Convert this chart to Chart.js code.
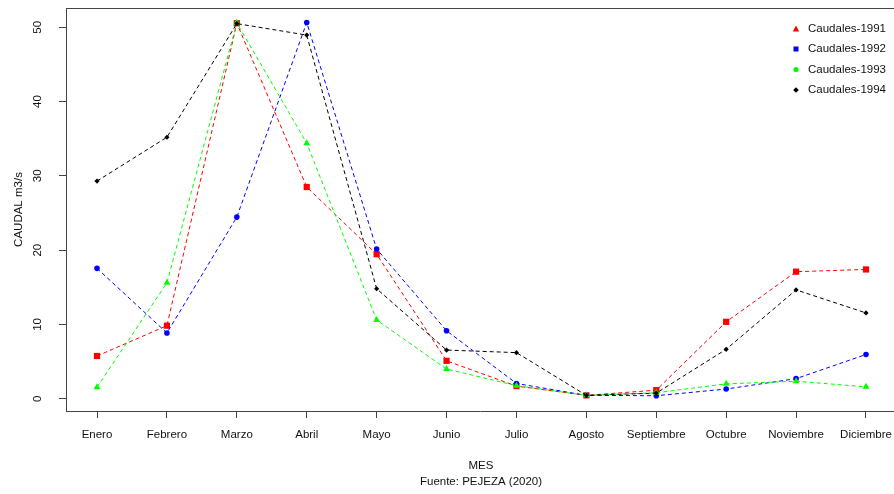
<!DOCTYPE html>
<html><head><meta charset="utf-8">
<script src="https://cdn.jsdelivr.net/npm/chart.js@4/dist/chart.umd.min.js"></script>
<style>html,body{margin:0;padding:0;background:#fff}canvas{display:block}</style>
</head><body>
<canvas id="c" width="894" height="494"></canvas>
<script>
const months = ['Enero','Febrero','Marzo','Abril','Mayo','Junio','Julio','Agosto','Septiembre','Octubre','Noviembre','Diciembre'];
const yTicks = [0, 10, 20, 30, 40, 50];
const q1991 = [5.75, 9.83, 50.55, 28.5, 19.45, 5.1, 1.7, 0.45, 1.15, 10.35, 17.1, 17.4];
const q1992 = [17.55, 8.85, 24.45, 50.65, 20.15, 9.15, 2.05, 0.45, 0.4, 1.3, 2.7, 5.95];
const q1993 = [1.55, 15.6, 50.6, 34.4, 10.6, 4.0, 1.75, 0.45, 0.8, 2.0, 2.35, 1.6];
const q1994 = [29.3, 35.2, 50.5, 48.95, 14.8, 6.55, 6.2, 0.45, 0.75, 6.65, 14.65, 11.55];
const seriesNames = ['Caudales-1991', 'Caudales-1992', 'Caudales-1993', 'Caudales-1994'];
const seriesColors = ['#ff0000', '#0000ff', '#00ff00', '#000000'];
const FONT = '"Liberation Sans", Arial, sans-serif';
const toXY = arr => arr.map((v, i) => ({ x: i + 1, y: v }));

function ds(idx, data, style, radius, order) {
  return {
    label: seriesNames[idx], data: toXY(data),
    borderColor: seriesColors[idx], backgroundColor: seriesColors[idx],
    borderWidth: 1, borderDash: [4, 3], pointStyle: style, pointRadius: radius,
    pointBorderWidth: 0, pointBackgroundColor: seriesColors[idx], tension: 0, order: order, fill: false,
    clip: 8
  };
}

const extras = {
  id: 'extras',
  afterDraw(chart) {
    const { ctx, chartArea: a, scales: { y } } = chart;
    ctx.save();
    ctx.strokeStyle = '#444'; ctx.lineWidth = 1;
    ctx.beginPath(); ctx.moveTo(a.left, a.top + 0.5); ctx.lineTo(a.right, a.top + 0.5); ctx.stroke();
    ctx.fillStyle = '#111'; ctx.font = '11.5px ' + FONT; ctx.textAlign = 'center'; ctx.textBaseline = 'middle';
    yTicks.forEach(v => {
      const py = y.getPixelForValue(v);
      ctx.save(); ctx.translate(38, py); ctx.rotate(-Math.PI / 2); ctx.fillText(String(v), 0, 0); ctx.restore();
    });
    ctx.save(); ctx.translate(19, (a.top + a.bottom) / 2); ctx.rotate(-Math.PI / 2); ctx.fillText('CAUDAL m3/s', 0, 0); ctx.restore();
    const cx = 481;
    ctx.fillText('MES', cx, 466);
    ctx.fillText('Fuente: PEJEZA (2020)', cx, 482);
    // legend
    const lx = 796, ly = [29, 49, 69.5, 90];
    ctx.textAlign = 'left';
    seriesNames.forEach((n, i) => {
      const yy = ly[i];
      ctx.fillStyle = seriesColors[i];
      ctx.beginPath();
      if (i === 0) { ctx.moveTo(lx, yy - 3.5); ctx.lineTo(lx + 3.2, yy + 2.5); ctx.lineTo(lx - 3.2, yy + 2.5); ctx.closePath(); }
      else if (i === 1) { ctx.rect(lx - 2.5, yy - 2.5, 5, 5); }
      else if (i === 2) { ctx.arc(lx, yy, 2.6, 0, Math.PI * 2); }
      else { ctx.moveTo(lx, yy - 2.8); ctx.lineTo(lx + 2.8, yy); ctx.lineTo(lx, yy + 2.8); ctx.lineTo(lx - 2.8, yy); ctx.closePath(); }
      ctx.fill();
      ctx.fillStyle = '#111';
      ctx.fillText(n, 808, yy);
    });
    ctx.restore();
  }
};

new Chart(document.getElementById('c'), {
  type: 'line',
  data: {
    datasets: [
      ds(0, q1991, 'rect', 4.4, 3),
      ds(1, q1992, 'circle', 2.8, 2),
      ds(2, q1993, 'triangle', 4, 1),
      ds(3, q1994, 'rectRot', 2.6, 0)
    ]
  },
  options: {
    responsive: false, animation: false,
    layout: { autoPadding: false, padding: { top: 8, right: 0, left: 0, bottom: 0 } },
    plugins: { legend: { display: false }, tooltip: { enabled: false } },
    scales: {
      x: {
        type: 'linear', min: 0.5565, max: 12.4006,
        afterBuildTicks: s => { s.ticks = months.map((m, i) => ({ value: i + 1 })); },
        afterFit: s => { s.height = 83; s.paddingRight = 0; s.paddingLeft = 0; },
        grid: { display: true, drawOnChartArea: false, drawTicks: true, tickLength: 7, color: '#444' },
        border: { display: true, color: '#444' },
        ticks: { autoSkip: false, maxRotation: 0, minRotation: 0, padding: 10, color: '#111',
          font: { family: FONT, size: 11.5 }, callback: v => months[v - 1] }
      },
      y: {
        type: 'linear', min: -1.656, max: 52.6,
        afterBuildTicks: s => { s.ticks = yTicks.map(v => ({ value: v })); },
        afterFit: s => { s.width = 66; s.paddingTop = 0; s.paddingBottom = 0; },
        grid: { display: true, drawOnChartArea: false, drawTicks: true, tickLength: 7, color: '#444' },
        border: { display: true, color: '#444' },
        ticks: { display: false }
      }
    }
  },
  plugins: [extras]
});
</script>
</body></html>
